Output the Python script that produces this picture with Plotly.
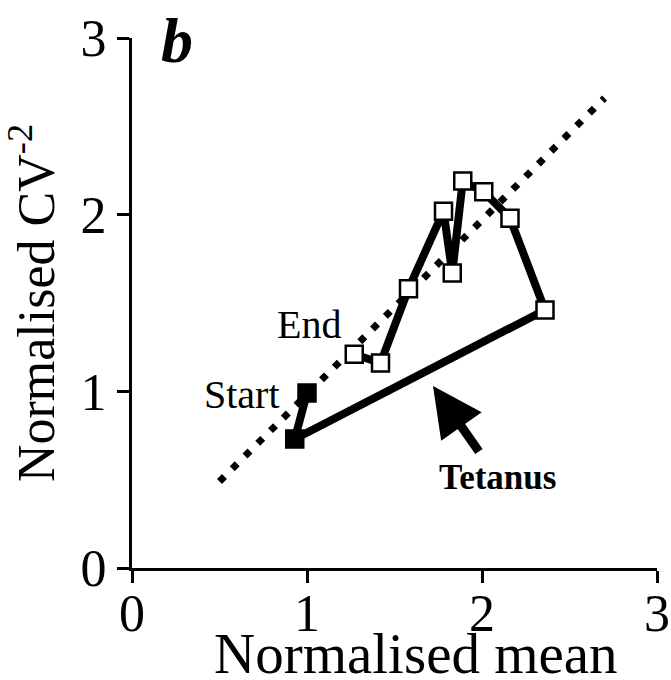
import plotly.graph_objects as go

# Trajectory of normalised mean vs normalised CV^-2 during the experiment
mean_vals = [1.00, 0.93, 2.36, 2.16, 2.01, 1.89, 1.83, 1.78, 1.58, 1.42, 1.27]
cv_vals = [0.99, 0.73, 1.46, 1.98, 2.13, 2.19, 1.67, 2.02, 1.58, 1.16, 1.21]
# first two points are pre-tetanus (filled), the rest post-tetanus (open)
point_fill = ["black", "black"] + ["white"] * 9

# reference line (dotted)
ref_x = [0.50, 2.70]
ref_y = [0.49, 2.66]

tick_vals = [0, 1, 2, 3]
tick_text = ["0", "1", "2", "3"]

FONT = "Liberation Serif"

fig = go.Figure()

fig.add_trace(go.Scatter(
    x=ref_x, y=ref_y, mode="lines",
    line=dict(color="black", width=7, dash="7px,11px"),
    hoverinfo="skip", showlegend=False,
))

fig.add_trace(go.Scatter(
    x=mean_vals, y=cv_vals, mode="lines+markers",
    line=dict(color="black", width=8),
    marker=dict(symbol="square", size=17, color=point_fill,
                line=dict(color="black", width=2.5)),
    showlegend=False,
))

annotations = [
    dict(x=1.01, y=1.38, text="End", showarrow=False,
         font=dict(family=FONT, size=40, color="black")),
    dict(x=0.63, y=0.98, text="Start", showarrow=False,
         font=dict(family=FONT, size=40, color="black")),
    dict(x=2.09, y=0.51, text="<b>Tetanus</b>", showarrow=False,
         font=dict(family=FONT, size=35, color="black")),
    dict(x=1.72, y=1.03, text="", showarrow=True, ax=47, ay=67,
         arrowhead=2, arrowsize=1.1, arrowwidth=9, arrowcolor="black",
         standoff=0),
    # panel letter
    dict(x=0.085, y=0.996, xref="paper", yref="paper",
         xanchor="center", yanchor="middle",
         text="<b><i>b</i></b>", showarrow=False,
         font=dict(family=FONT, size=64, color="black")),
    # x-axis title, placed under the tick labels
    dict(x=0.54, y=-0.098, xref="paper", yref="paper",
         xanchor="center", yanchor="top",
         text="Normalised mean", showarrow=False,
         font=dict(family=FONT, size=57, color="black")),
]

axis_common = dict(
    range=[0, 3], tickvals=tick_vals, ticktext=tick_text,
    showline=True, linecolor="black", linewidth=3,
    ticks="outside", ticklen=12, tickwidth=3, tickcolor="black",
    showgrid=False, zeroline=False, automargin=False,
    tickfont=dict(family=FONT, size=52, color="black"),
)

fig.update_layout(
    width=671, height=680,
    margin=dict(l=132, r=14, t=38, b=112),
    paper_bgcolor="white", plot_bgcolor="white",
    xaxis=dict(**axis_common, ticklabelstandoff=-14),
    yaxis=dict(**axis_common,
               title=dict(text="Normalised CV<sup>-2</sup>", standoff=16,
                          font=dict(family=FONT, size=52, color="black"))),
    annotations=annotations,
)

fig.write_html("out.html")
